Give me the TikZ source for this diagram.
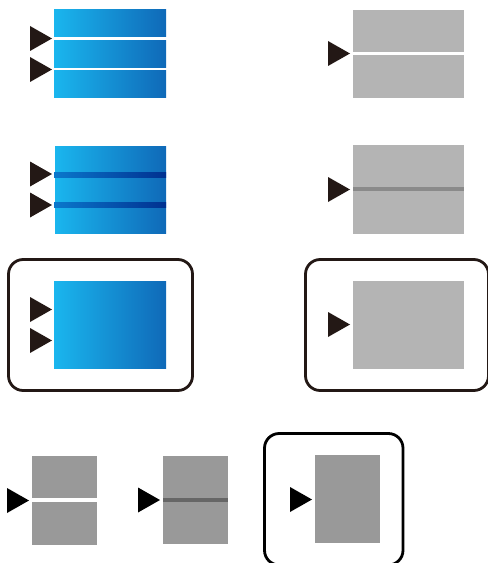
\documentclass[tikz,border=0pt]{standalone}
\definecolor{tridark}{HTML}{231815}
\definecolor{blueL}{HTML}{1AB6EE}
\definecolor{blueR}{HTML}{0F69B8}
\definecolor{lineL}{HTML}{0A78CC}
\definecolor{lineR}{HTML}{003090}
\definecolor{grayA}{HTML}{B4B4B4}
\definecolor{grayAd}{HTML}{8A8A8A}
\definecolor{grayB}{HTML}{999999}
\definecolor{grayBd}{HTML}{666666}
\tikzset{
  bluegrad/.style={left color=blueL,right color=blueR,draw=none},
  bluebar/.style={left color=lineL,right color=lineR,draw=none},
  panel/.style={draw=tridark,line width=2.1pt,rounded corners=11pt,fill=white},
  panelk/.style={draw=black,line width=2.1pt,rounded corners=11pt,fill=white},
}
\newcommand{\tri}[3][tridark]{\fill[#1] (#2,#3-12.5) -- (#2+22,#3) -- (#2,#3+12.5) -- cycle;}
\begin{document}
\begin{tikzpicture}[x=0.75pt,y=-0.75pt]
\useasboundingbox (0,0) rectangle (488,563);
\clip (0,0) rectangle (488,563);
% row 1 left
\fill[bluegrad] (54,10) rectangle (166,37);
\fill[bluegrad] (54,41) rectangle (166,68);
\fill[bluegrad] (54,71) rectangle (166,98);
\tri{30}{38.5}
\tri{30}{69.5}
% row 1 right
\fill[grayA] (353,10) rectangle (464,52);
\fill[grayA] (353,55) rectangle (464,98);
\tri{328}{53.5}
% row 2 left
\fill[bluegrad] (55,146) rectangle (166,233);
\fill[bluebar] (54,172) rectangle (166,177);
\fill[bluebar] (54,202) rectangle (166,207);
\tri{30}{174}
\tri{30}{205}
% row 2 right
\fill[grayA] (353,145) rectangle (464,234);
\fill[grayAd] (353,187) rectangle (464,191);
\tri{328}{189.5}
% row 3 left
\draw[panel] (8.5,259.5) rectangle (192.5,390.5);
\fill[bluegrad] (54,281) rectangle (166,368);
\tri{30}{309.5}
\tri{30}{340.5}
% row 3 right
\draw[panel] (305.5,259.5) rectangle (488.5,390.5);
\fill[grayA] (353,281) rectangle (464,369);
\tri{328}{324.5}
% row 4
\fill[grayB] (32,456) rectangle (97,498);
\fill[grayB] (32,502) rectangle (97,545);
\tri[black]{7}{500.5}
\fill[grayB] (163,456) rectangle (228,544);
\fill[grayBd] (163,498) rectangle (228,502);
\tri[black]{138}{500}
\draw[panelk] (264.5,433.5) rectangle (403,565);
\fill[grayB] (315,455) rectangle (380,543);
\tri[black]{290}{499.5}
\end{tikzpicture}
\end{document}
